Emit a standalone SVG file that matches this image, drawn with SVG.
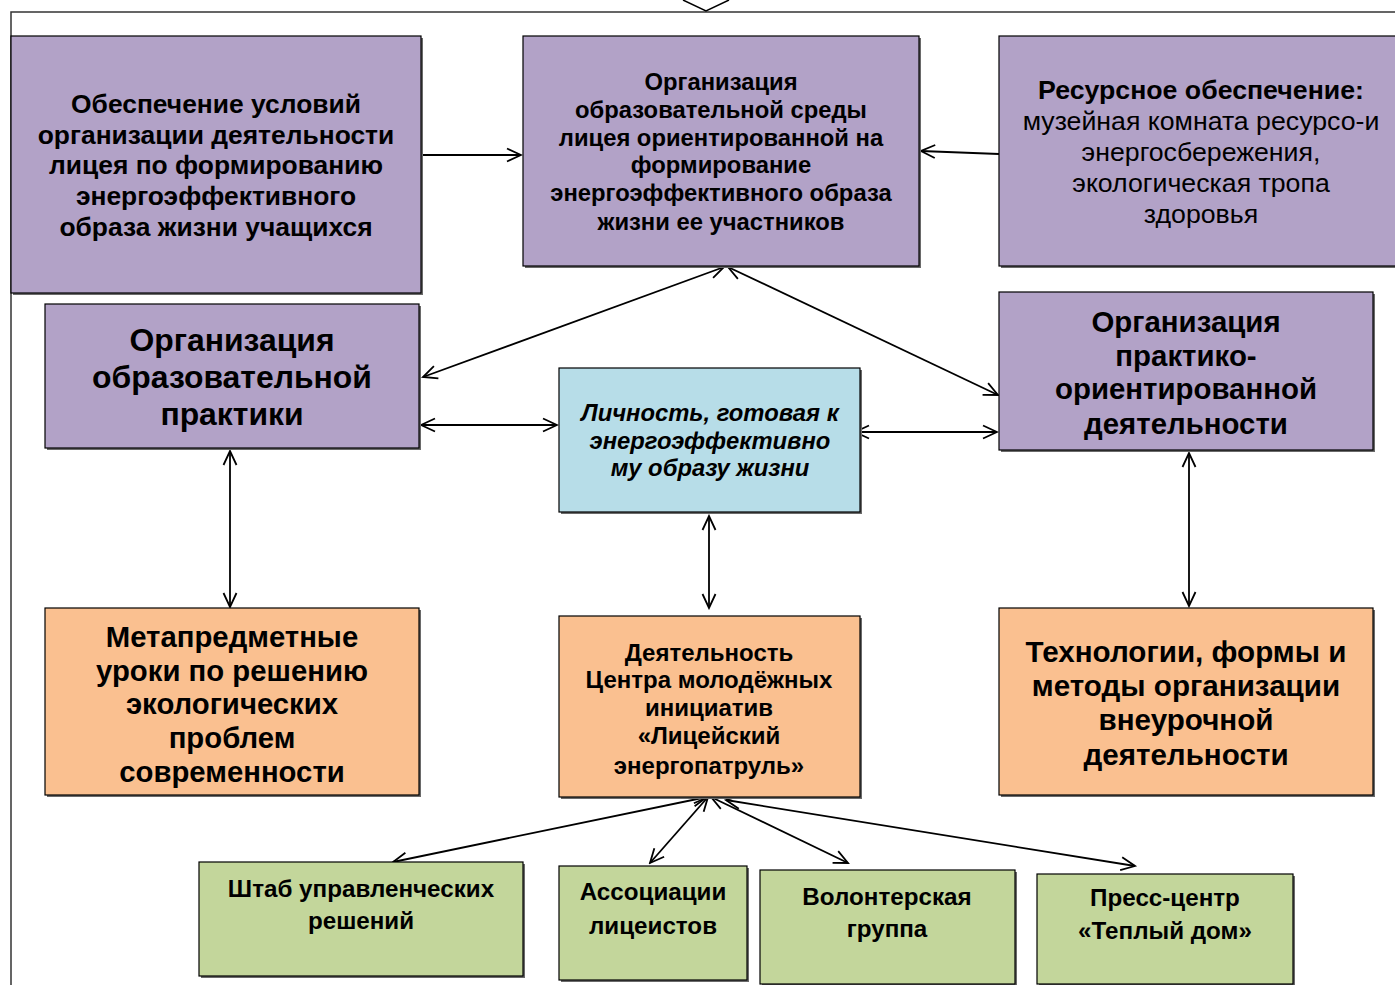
<svg xmlns="http://www.w3.org/2000/svg" width="1395" height="985" viewBox="0 0 1395 985">
<style>
.bx{stroke:#000;stroke-width:1.2}
.sh{fill:#6a6a6a}
.pu{fill:#b2a2c7}
.bl{fill:#b7dde8}
.or{fill:#fac090}
.gr{fill:#c3d69b}
text{font-family:"Liberation Sans",Arial,sans-serif;fill:#000;text-anchor:middle}
.b{font-weight:bold}
.i{font-style:italic;font-weight:bold}
.c{fill:none;stroke:#000;stroke-width:1.8}
</style>
<defs>
<marker id="ah" viewBox="-16 -9 18 18" refX="0" refY="0" markerWidth="18" markerHeight="18" markerUnits="userSpaceOnUse" orient="auto-start-reverse">
<path d="M-14,-6.5 L0,0 L-14,6.5" fill="none" stroke="#000" stroke-width="1.8"/>
</marker>
</defs>
<rect width="1395" height="985" fill="#fff"/>
<g id="frame">
<path d="M11,985 L11,12 L1395,12" fill="none" stroke="#333" stroke-width="1.5"/>
<path d="M683,0 L706,11 L729,0" fill="none" stroke="#000" stroke-width="1.5"/>
</g>
<g id="connectors">
<line class="c" x1="421" y1="155" x2="521" y2="155" marker-end="url(#ah)"/>
<line class="c" x1="999" y1="154" x2="921" y2="151" marker-end="url(#ah)"/>
<line class="c" x1="724" y1="267" x2="423" y2="377" marker-start="url(#ah)" marker-end="url(#ah)"/>
<line class="c" x1="728" y1="267" x2="998" y2="395" marker-start="url(#ah)" marker-end="url(#ah)"/>
<line class="c" x1="421" y1="425" x2="557" y2="425" marker-start="url(#ah)" marker-end="url(#ah)"/>
<line class="c" x1="855" y1="432" x2="997" y2="432" marker-start="url(#ah)" marker-end="url(#ah)"/>
<line class="c" x1="230" y1="451" x2="230" y2="607" marker-start="url(#ah)" marker-end="url(#ah)"/>
<line class="c" x1="709" y1="516" x2="709" y2="608" marker-start="url(#ah)" marker-end="url(#ah)"/>
<line class="c" x1="1189" y1="453" x2="1189" y2="606" marker-start="url(#ah)" marker-end="url(#ah)"/>
<line class="c" x1="707" y1="797" x2="393" y2="862" marker-start="url(#ah)" marker-end="url(#ah)"/>
<line class="c" x1="708" y1="797" x2="650" y2="863" marker-start="url(#ah)" marker-end="url(#ah)"/>
<line class="c" x1="711" y1="797" x2="848" y2="863" marker-start="url(#ah)" marker-end="url(#ah)"/>
<line class="c" x1="726" y1="800" x2="1135" y2="866" marker-start="url(#ah)" marker-end="url(#ah)"/>
</g>
<g id="n1">
<rect class="sh" x="13" y="38" width="410" height="257"/>
<rect class="bx pu" x="11" y="36" width="410" height="257"/>
<text class="b" font-size="26.4"><tspan x="216" y="113">Обеспечение условий</tspan><tspan x="216" y="144">организации деятельности</tspan><tspan x="216" y="174">лицея по формированию</tspan><tspan x="216" y="205">энергоэффективного</tspan><tspan x="216" y="236">образа жизни учащихся</tspan></text>
</g>
<g id="n2">
<rect class="sh" x="525" y="38" width="396" height="230"/>
<rect class="bx pu" x="523" y="36" width="396" height="230"/>
<text class="b" font-size="23.8"><tspan x="721" y="90">Организация</tspan><tspan x="721" y="118">образовательной среды</tspan><tspan x="721" y="146">лицея ориентированной на</tspan><tspan x="721" y="173">формирование</tspan><tspan x="721" y="201">энергоэффективного образа</tspan><tspan x="721" y="230">жизни ее участников</tspan></text>
</g>
<g id="n3">
<rect class="sh" x="1001" y="38" width="396" height="230"/>
<rect class="bx pu" x="999" y="36" width="400" height="230"/>
<text font-size="26.7"><tspan class="b" x="1201" y="99">Ресурсное обеспечение:</tspan><tspan x="1201" y="130">музейная комната ресурсо-и</tspan><tspan x="1201" y="161">энергосбережения,</tspan><tspan x="1201" y="192">экологическая тропа</tspan><tspan x="1201" y="223">здоровья</tspan></text>
</g>
<g id="n4">
<rect class="sh" x="47" y="306" width="374" height="144"/>
<rect class="bx pu" x="45" y="304" width="374" height="144"/>
<text class="b" font-size="31.9"><tspan x="232" y="351">Организация</tspan><tspan x="232" y="388">образовательной</tspan><tspan x="232" y="425">практики</tspan></text>
</g>
<g id="n5">
<rect class="sh" x="561" y="370" width="301" height="144"/>
<rect class="bx bl" x="559" y="368" width="301" height="144"/>
<text class="i" font-size="23.8"><tspan x="710" y="421">Личность, готовая к</tspan><tspan x="710" y="449">энергоэффективно</tspan><tspan x="710" y="476">му образу жизни</tspan></text>
</g>
<g id="n6">
<rect class="sh" x="1001" y="294" width="374" height="158"/>
<rect class="bx pu" x="999" y="292" width="374" height="158"/>
<text class="b" font-size="29.4"><tspan x="1186" y="332">Организация</tspan><tspan x="1186" y="366">практико-</tspan><tspan x="1186" y="399">ориентированной</tspan><tspan x="1186" y="434">деятельности</tspan></text>
</g>
<g id="n7">
<rect class="sh" x="47" y="610" width="374" height="187"/>
<rect class="bx or" x="45" y="608" width="374" height="187"/>
<text class="b" font-size="29.3"><tspan x="232" y="647">Метапредметные</tspan><tspan x="232" y="681">уроки по решению</tspan><tspan x="232" y="714">экологических</tspan><tspan x="232" y="748">проблем</tspan><tspan x="232" y="782">современности</tspan></text>
</g>
<g id="n8">
<rect class="sh" x="561" y="618" width="301" height="181"/>
<rect class="bx or" x="559" y="616" width="301" height="181"/>
<text class="b" font-size="24"><tspan x="709" y="661">Деятельность</tspan><tspan x="709" y="688">Центра молодёжных</tspan><tspan x="709" y="716">инициатив</tspan><tspan x="709" y="744">«Лицейский</tspan><tspan x="709" y="774">энергопатруль»</tspan></text>
</g>
<g id="n9">
<rect class="sh" x="1001" y="610" width="374" height="187"/>
<rect class="bx or" x="999" y="608" width="374" height="187"/>
<text class="b" font-size="29.6"><tspan x="1186" y="662">Технологии, формы и</tspan><tspan x="1186" y="696">методы организации</tspan><tspan x="1186" y="730">внеурочной</tspan><tspan x="1186" y="765">деятельности</tspan></text>
</g>
<g id="n10">
<rect class="sh" x="201" y="864" width="324" height="114"/>
<rect class="bx gr" x="199" y="862" width="324" height="114"/>
<text class="b" font-size="24.2"><tspan x="361" y="897">Штаб управленческих</tspan><tspan x="361" y="929">решений</tspan></text>
</g>
<g id="n11">
<rect class="sh" x="561" y="868" width="188" height="114"/>
<rect class="bx gr" x="559" y="866" width="188" height="114"/>
<text class="b" font-size="24.2"><tspan x="653" y="900">Ассоциации</tspan><tspan x="653" y="934">лицеистов</tspan></text>
</g>
<g id="n12">
<rect class="sh" x="762" y="872" width="255" height="114"/>
<rect class="bx gr" x="760" y="870" width="255" height="114"/>
<text class="b" font-size="24.2"><tspan x="887" y="905">Волонтерская</tspan><tspan x="887" y="937">группа</tspan></text>
</g>
<g id="n13">
<rect class="sh" x="1039" y="876" width="256" height="112"/>
<rect class="bx gr" x="1037" y="874" width="256" height="110"/>
<text class="b" font-size="24.2"><tspan x="1165" y="906">Пресс-центр</tspan><tspan x="1165" y="939">«Теплый дом»</tspan></text>
</g>
</svg>
